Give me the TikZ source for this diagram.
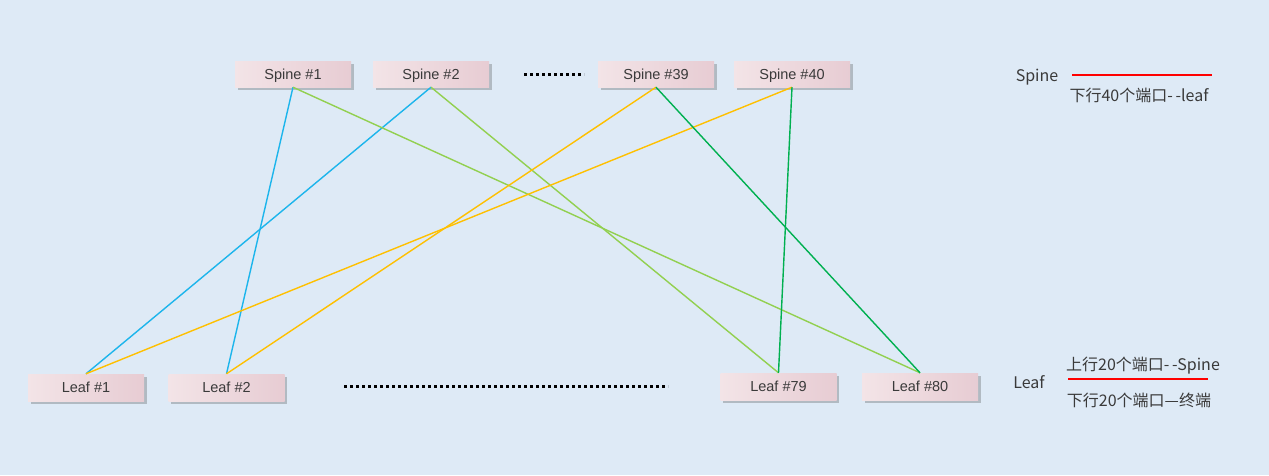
\documentclass[tikz,border=0pt]{standalone}
\usepackage{fontspec}
\setmainfont{Liberation Sans}
\newfontfamily\cjk{Noto Sans CJK SC}
\usetikzlibrary{shadows}

\definecolor{bgblue}{HTML}{DEEAF6}
\definecolor{boxl}{HTML}{F3E4E7}
\definecolor{boxr}{HTML}{E7CCD3}
\definecolor{txt}{HTML}{3A3A3A}
\definecolor{cblue}{HTML}{1CB5EC}
\definecolor{lgreen}{HTML}{92D050}
\definecolor{cyellow}{HTML}{FFC000}
\definecolor{dgreen}{HTML}{00B050}

\tikzset{
    box/.style={minimum width=116pt, minimum height=26pt, inner sep=0pt,
        text height=10.5pt, text depth=0pt,
        left color=boxl, right color=boxr, text=txt,
        drop shadow={shadow xshift=2.5pt, shadow yshift=-3pt, opacity=0.3, fill=black!70},
        font=\fontsize{14.5}{16}\selectfont},
    link/.style={line width=1.4pt},
    tag/.style={text=txt, inner sep=0pt, font=\cjk\fontsize{16}{18}\selectfont},
    dots/.style={line width=3pt, dash pattern=on 3pt off 3pt}
}

\begin{document}
\begin{tikzpicture}[x=1pt, y=-1pt]
    % Background
    \fill[bgblue] (0,0) rectangle (1269,475);
    \useasboundingbox (0,0) rectangle (1269,475);

    % Spine switches
    \node[box] (s1) at (293,74) {Spine \#1};
    \node[box] (s2) at (431,74) {Spine \#2};
    \node[box] (s39) at (656,74) {Spine \#39};
    \node[box] (s40) at (792,74) {Spine \#40};

    % Leaf switches
    \node[box, minimum height=27pt] (l1) at (86,387.5) {Leaf \#1};
    \node[box, minimum height=27pt] (l2) at (226.5,387.5) {Leaf \#2};
    \node[box, minimum height=27pt] (l79) at (778.5,386.5) {Leaf \#79};
    \node[box, minimum height=27pt] (l80) at (920,386.5) {Leaf \#80};

    % Ellipsis marks
    \coordinate (sdots1) at (524,74);
    \coordinate (sdots2) at (584,74);
    \coordinate (ldots1) at (344,386);
    \coordinate (ldots2) at (668,386);
    \draw[dots] (sdots1) -- (sdots2);
    \draw[dots] (ldots1) -- (ldots2);

    % Links
    \draw[link, cblue] (s1.south) -- (l2.north);
    \draw[link, cblue] (s2.south) -- (l1.north);
    \draw[link, lgreen] (s1.south) -- (l80.north);
    \draw[link, lgreen] (s2.south) -- (l79.north);
    \draw[link, cyellow] (s39.south) -- (l2.north);
    \draw[link, cyellow] (s40.south) -- (l1.north);
    \draw[link, dgreen] (s39.south) -- (l80.north);
    \draw[link, dgreen] (s40.south) -- (l79.north);

    % Legend on the right
    \node[tag] (spinetag) at (1037,77) {Spine};
    \node[tag] (spinedown) at (1139,95) {下行40个端口-\,-leaf};
    \coordinate (sred1) at (1072,74.5);
    \coordinate (sred2) at (1212,74.5);
    \draw[red, line width=2pt] (sred1) -- (sred2);

    \node[tag] (leaftag) at (1029,382) {Leaf};
    \node[tag] (leafup) at (1143,366) {上行20个端口-\,-Spine};
    \node[tag] (leafdown) at (1139,400) {下行20个端口—终端};
    \coordinate (lred1) at (1068,379);
    \coordinate (lred2) at (1208,379);
    \draw[red, line width=2pt] (lred1) -- (lred2);
\end{tikzpicture}
\end{document}
